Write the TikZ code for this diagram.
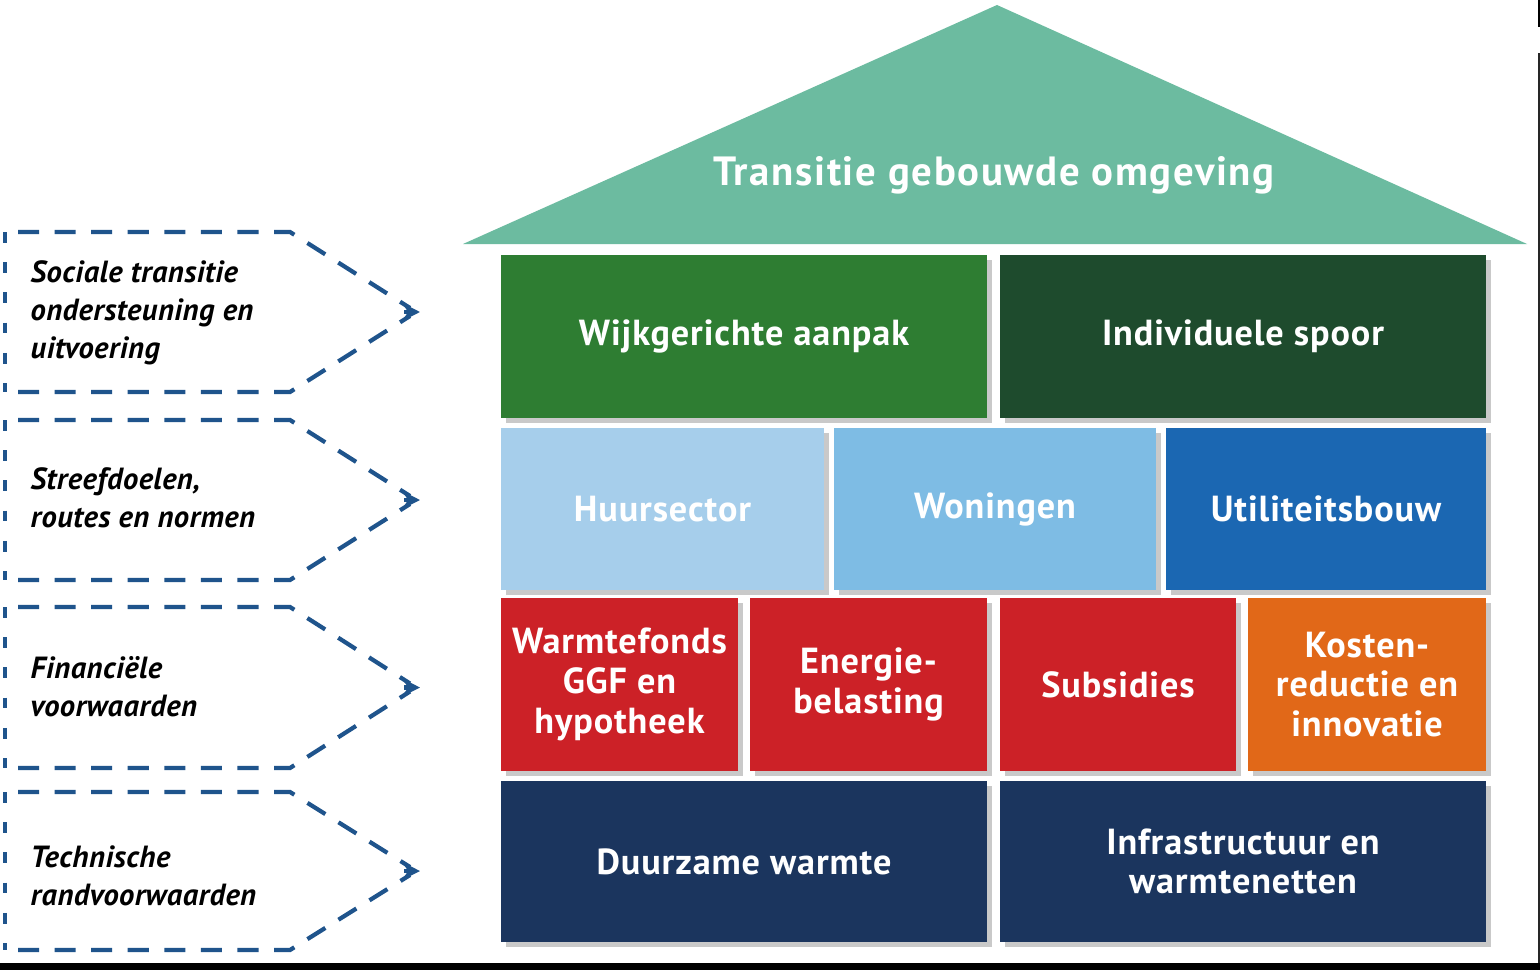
\documentclass[tikz,border=0pt]{standalone}
\usepackage{fontspec}
\setmainfont{PT Sans}
\usetikzlibrary{shadows,arrows.meta}
\definecolor{dak}{RGB}{108,187,160}
\definecolor{groen}{RGB}{46,125,50}
\definecolor{donkergroen}{RGB}{30,75,45}
\definecolor{lichtblauw}{RGB}{166,206,235}
\definecolor{middenblauw}{RGB}{126,188,228}
\definecolor{blauw}{RGB}{27,103,178}
\definecolor{rood}{RGB}{204,33,39}
\definecolor{oranje}{RGB}{225,104,24}
\definecolor{marine}{RGB}{27,53,94}
\definecolor{streep}{RGB}{31,84,140}
\begin{document}
\begin{tikzpicture}[x=0.01cm, y=-0.01cm,
	blok/.style={rectangle, inner sep=0pt, text=white, align=center,
		font=\bfseries\fontsize{10.3}{11.3}\selectfont\addfontfeature{LetterSpace=2.5},
		drop shadow={shadow xshift=0.05cm, shadow yshift=-0.05cm, fill=black!35, opacity=0.6}},
	pijl/.style={streep, line width=1.2pt, dash pattern=on 6pt off 4.4pt},
	zijkant/.style={streep, line width=1.2pt, dash pattern=on 3pt off 5.6pt},
	uitleg/.style={anchor=west, align=left, inner sep=0pt,
		font=\bfseries\itshape\fontsize{8.7}{10.8}\selectfont\addfontfeature{LetterSpace=1.5}}]
	\useasboundingbox (0,0) rectangle (1540,970);
	\fill[white] (0,0) rectangle (1540,970);
	% Randen
		\fill[black] (0,963) rectangle (1540,970);
		\fill[black!85] (1537.5,53) rectangle (1540,963);
		\fill[black] (1537.5,0) rectangle (1540,27);

	% Dak
		\fill[dak] (463,244) -- (997,5) -- (1527,244) -- cycle;
		\node[text=white, font=\bfseries\fontsize{11.6}{13}\selectfont\addfontfeature{LetterSpace=4}] (titel) at (994,175) {Transitie gebouwde omgeving};

	% Rij 1
		\node[blok, fill=groen, minimum width=4.86cm, minimum height=1.63cm] (wijk) at (744,336.5) {Wijkgerichte aanpak};
		\node[blok, fill=donkergroen, minimum width=4.86cm, minimum height=1.63cm] (spoor) at (1243,336.5) {Individuele spoor};

	% Rij 2
		\node[blok, fill=lichtblauw, minimum width=3.23cm, minimum height=1.62cm] (huur) at (662.5,509) {Huursector};
		\node[blok, fill=middenblauw, minimum width=3.22cm, minimum height=1.62cm] (woning) at (995,509) {Woningen};
		\node[blok, fill=blauw, minimum width=3.20cm, minimum height=1.62cm] (util) at (1326,509) {Utiliteitsbouw};

	% Rij 3
		\node[blok, fill=rood, minimum width=2.37cm, minimum height=1.73cm] (fonds) at (619.5,684.5) {Warmtefonds\\GGF en\\hypotheek};
		\node[blok, fill=rood, minimum width=2.37cm, minimum height=1.73cm] (belasting) at (868.5,684.5) {Energie-\\belasting};
		\node[blok, fill=rood, minimum width=2.36cm, minimum height=1.73cm] (subsidie) at (1118,684.5) {Subsidies};
		\node[blok, fill=oranje, minimum width=2.38cm, minimum height=1.73cm] (kosten) at (1367,684.5) {Kosten-\\reductie en\\innovatie};

	% Rij 4
		\node[blok, fill=marine, minimum width=4.86cm, minimum height=1.61cm] (warmte) at (744,861.5) {Duurzame warmte};
		\node[blok, fill=marine, minimum width=4.86cm, minimum height=1.61cm] (infra) at (1243,861.5) {Infrastructuur en\\warmtenetten};

	% Gestippelde pijlen
		\foreach \boven/\onder in {232/392, 420/580, 607/768, 792/950}{
			\pgfmathsetmacro{\midden}{(\boven+\onder)/2}
			\draw[pijl] (18,\boven) -- (290,\boven) -- (410,\midden-4);
			\draw[pijl] (18,\onder) -- (290,\onder) -- (410,\midden+4);
			\draw[zijkant] (5,\boven) -- (5,\onder);
			\draw[streep, line width=1.2pt, -{Stealth[length=5pt, width=5pt]}] (404,\midden) -- (420,\midden);
		}

	% Uitleg
		\node[uitleg] (sociaal) at (30,313) {Sociale transitie\\ondersteuning en\\uitvoering};
		\node[uitleg] (streef) at (30,498) {Streefdoelen,\\routes en normen};
		\node[uitleg] (financieel) at (30,687) {Financiële\\voorwaarden};
		\node[uitleg] (techniek) at (30,876) {Technische\\randvoorwaarden};
\end{tikzpicture}
\end{document}
